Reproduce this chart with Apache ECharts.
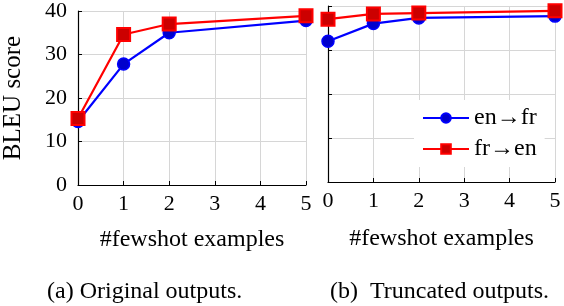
<!DOCTYPE html>
<html><head><meta charset="utf-8">
<script src="https://cdn.jsdelivr.net/npm/echarts@6/dist/echarts.min.js"></script>
<style>html,body{margin:0;padding:0;background:#fff}#c{width:564px;height:306px}</style>
</head><body><div id="c"></div>
<script>
const xValues = [0, 1, 2, 5];
const xTicks = [0, 1, 2, 3, 4, 5];
const yTicks = [0, 10, 20, 30, 40];
const origEnFr = [14.6, 27.8, 35.0, 37.8];
const origFrEn = [15.3, 34.6, 37.0, 38.9];
const truncEnFr = [32.0, 36.0, 37.3, 37.7];
const truncFrEn = [37.0, 38.2, 38.4, 38.9];
const seriesNames = ['en\u2192fr', 'fr\u2192en'];
const xName = '#fewshot examples';
const yName = 'BLEU score';
const captions = ['(a) Original outputs.', '(b)  Truncated outputs.'];

const FONT = 'Liberation Serif';
const grid = '#d6d6d6';
const pairs = a => xValues.map((x, i) => [x, a[i]]);

function xAxis(idx) {
  return {
    type: 'value', gridIndex: idx, min: xTicks[0], max: xTicks[xTicks.length - 1], interval: 1,
    name: xName, nameLocation: 'middle', nameGap: idx === 0 ? 43 : 45,
    nameTextStyle: { fontFamily: FONT, fontSize: 24, color: '#000' },
    axisLine: { lineStyle: { color: '#000', width: 1.2 } },
    axisTick: { inside: true, length: 4, lineStyle: { color: '#000' } },
    axisLabel: { fontFamily: FONT, fontSize: 22, color: '#000', margin: 8 },
    splitLine: { show: true, lineStyle: { color: grid, width: 1 } }
  };
}
function yAxis(idx) {
  return {
    type: 'value', gridIndex: idx, min: yTicks[0], max: yTicks[yTicks.length - 1], interval: 10,
    name: idx === 0 ? yName : '', nameLocation: 'middle', nameGap: 52,
    nameTextStyle: { fontFamily: FONT, fontSize: 25, color: '#000' },
    axisLine: { show: true, lineStyle: { color: '#000', width: 1.2 } },
    axisTick: { show: true, inside: true, length: 4, lineStyle: { color: '#000' } },
    axisLabel: { show: idx === 0, fontFamily: FONT, fontSize: 22, color: '#000', margin: 11 },
    splitLine: { show: true, lineStyle: { color: grid, width: 1 } }
  };
}
const blueS = (name, data, xi) => ({
  name, type: 'line', xAxisIndex: xi, yAxisIndex: xi, data: pairs(data),
  symbol: 'circle', symbolSize: 12,
  lineStyle: { color: '#0000ff', width: 2.2 },
  itemStyle: { color: '#0000cc', borderColor: '#0000ff', borderWidth: 1.5 },
  z: 3, animation: false
});
const redS = (name, data, xi) => ({
  name, type: 'line', xAxisIndex: xi, yAxisIndex: xi, data: pairs(data),
  symbol: 'rect', symbolSize: 13,
  lineStyle: { color: '#ff0000', width: 2.2 },
  itemStyle: { color: '#cc0000', borderColor: '#ff0000', borderWidth: 2 },
  z: 4, animation: false
});

const chart = echarts.init(document.getElementById('c'), null, { renderer: 'canvas' });
chart.setOption({
  backgroundColor: '#fff',
  animation: false,
  textStyle: { fontFamily: FONT },
  grid: [
    { left: 74, right: 258, top: 11, bottom: 121 },
    { left: 328, right: 9, top: 6, bottom: 124 }
  ],
  xAxis: [xAxis(0), xAxis(1)],
  yAxis: [yAxis(0), yAxis(1)],
  legend: {
    data: seriesNames, orient: 'vertical', left: 414, top: 100,
    itemWidth: 46, itemHeight: 12, itemGap: 7,
    backgroundColor: '#fff', padding: [6, 8, 6, 8],
    textStyle: { fontFamily: FONT, fontSize: 24, color: '#000' }
  },
  series: [
    blueS(seriesNames[0], origEnFr, 0),
    redS(seriesNames[1], origFrEn, 0),
    blueS(seriesNames[0], truncEnFr, 1),
    redS(seriesNames[1], truncFrEn, 1)
  ],
  graphic: [
    { type: 'text', left: 47, top: 280, style: { text: captions[0], fontFamily: FONT, fontSize: 24, fill: '#000' } },
    { type: 'text', left: 330, top: 280, style: { text: captions[1], fontFamily: FONT, fontSize: 24, fill: '#000' } }
  ]
});
</script></body></html>
